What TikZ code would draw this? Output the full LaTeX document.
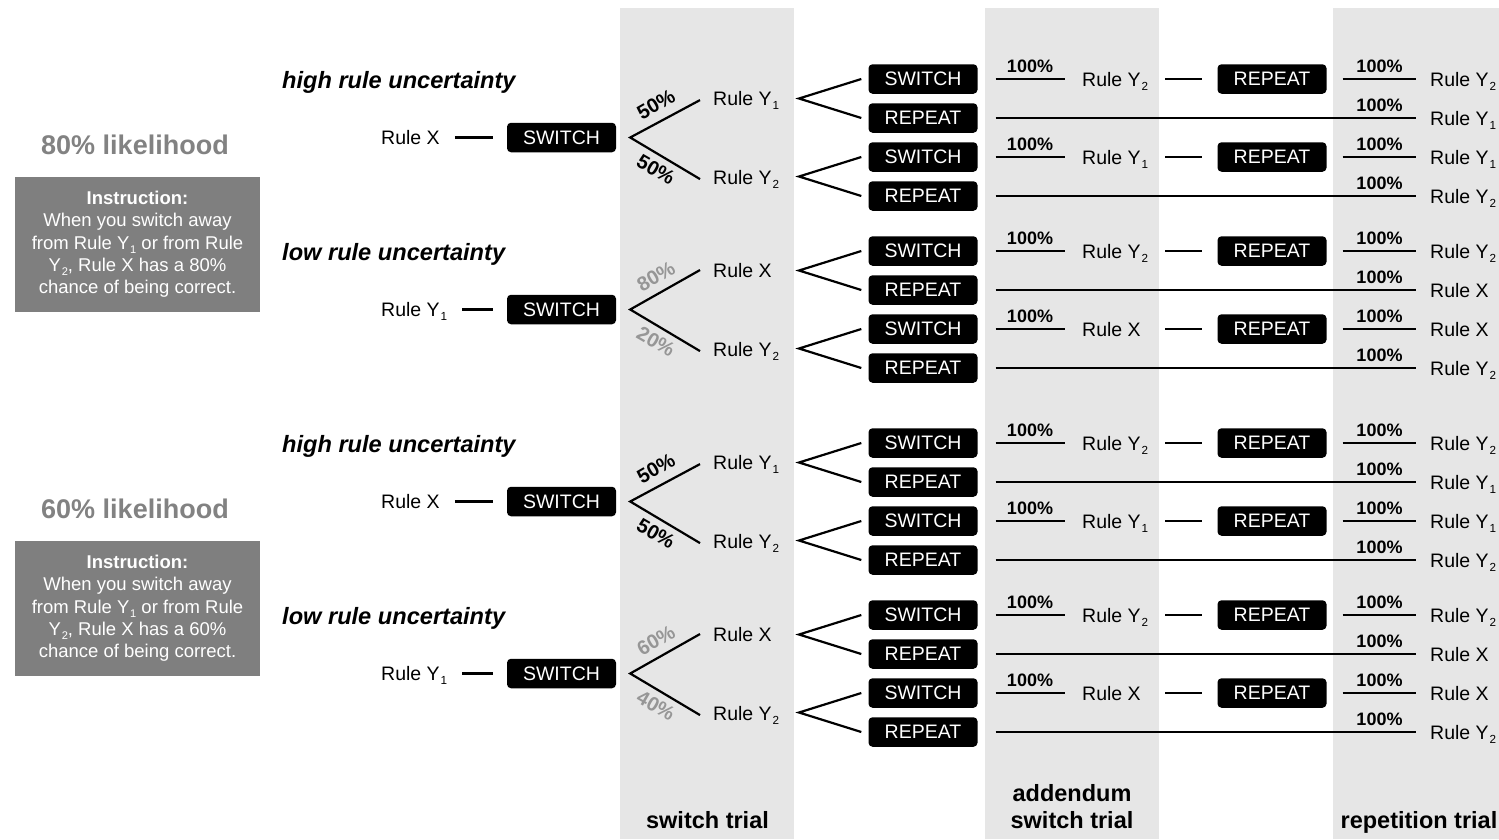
\documentclass[tikz,border=0pt]{standalone}
\usepackage{fontspec}
\setmainfont{Liberation Sans}
\definecolor{colbg}{RGB}{230,230,230}
\definecolor{instrgray}{RGB}{127,127,127}
\definecolor{likegray}{RGB}{130,130,130}
\definecolor{pctgray}{RGB}{150,150,150}
\newcommand\lsub[1]{\kern0.04em\raisebox{-0.22em}{\scalebox{0.6}{#1}}}
\tikzset{
  ln/.style={line width=2.2pt},
  actbox/.style={fill=black, text=white, rounded corners=4pt, minimum width=109pt,
    minimum height=29.5pt, inner sep=0pt, font=\fontsize{19.5}{22}\selectfont},
  rtxt/.style={inner sep=0pt, anchor=base west, font=\fontsize{19.5}{22}\selectfont},
  pctxt/.style={inner sep=0pt, anchor=base, font=\bfseries\fontsize{18}{20}\selectfont},
  pctlab/.style={inner sep=0pt, font=\bfseries\fontsize{20}{22}\selectfont},
  headtxt/.style={inner sep=0pt, anchor=base west, font=\bfseries\itshape\fontsize{23.6}{26}\selectfont},
  liketxt/.style={inner sep=0pt, anchor=base, text=likegray, font=\bfseries\fontsize{27}{30}\selectfont},
  instrbox/.style={fill=instrgray, text=white, align=center, minimum width=245pt,
    minimum height=135pt, inner sep=0pt, font=\fontsize{18.5}{22.3}\selectfont},
  bottxt/.style={inner sep=0pt, anchor=base, font=\bfseries\fontsize{23.5}{26}\selectfont}
}
% switch row: id, y, middle rule, final rule
\newcommand\swrow[4]{%
  \node[actbox] (#1a) at (923,#2) {SWITCH};
  \node[rtxt] (#1m) at (1082,#2+7) {#3};
  \node[actbox] (#1r) at (1272,#2) {REPEAT};
  \node[rtxt] (#1f) at (1430,#2+7) {#4};
  \draw[ln] ([xshift=18pt]#1a.east) -- ([xshift=-17pt]#1m.west |- #1a.east);
  \node[pctxt] (#1p) at (1030,#2-6.5) {100\%};
  \coordinate (#1d) at (1165,#2);
  \draw[ln] (#1d) -- ([xshift=-15pt]#1r.west);
  \draw[ln] ([xshift=16pt]#1r.east) -- ([xshift=-14pt]#1f.west |- #1r.east);
  \node[pctxt] (#1q) at (1379.5,#2-6.5) {100\%};
}
% repeat row: id, y, final rule
\newcommand\rprow[3]{%
  \node[actbox] (#1a) at (923,#2) {REPEAT};
  \node[rtxt] (#1f) at (1430,#2+7) {#3};
  \draw[ln] ([xshift=18pt]#1a.east) -- ([xshift=-14pt]#1f.west |- #1a.east);
  \node[pctxt] (#1q) at (1379.5,#2-6.5) {100\%};
}
% group: id, yc, heading, start rule, mid top, mid bottom, pct top, pct bottom, pct colour
\newcommand\tgroup[9]{%
  \node[headtxt] (G#1h) at (282,#2-49.5) {#3};
  \node[rtxt] (G#1s) at (381,#2+7) {#4};
  \node[actbox] (G#1box) at (561.5,#2) {SWITCH};
  \draw[ln] ([xshift=15pt]G#1s.east |- G#1box.west) -- ([xshift=-14pt]G#1box.west);
  \node[rtxt] (G#1t) at (713,#2-39.5+7) {#5};
  \node[rtxt] (G#1u) at (713,#2+39.5+7) {#6};
  \draw[ln] ([xshift=-13pt]G#1t.west) -- ([xshift=14pt]G#1box.east) -- ([xshift=-13pt]G#1u.west);
  \node[pctlab, text=#9, rotate=30] (G#1p1) at (656,#2-33) {#7};
  \node[pctlab, text=#9, rotate=-30] (G#1p2) at (656,#2+32) {#8};
  \coordinate (G#1w1) at (799,#2-39);
  \coordinate (G#1w2) at (799,#2+39);
  \draw[ln] ([xshift=-7pt]#1aa.west) -- (G#1w1) -- ([xshift=-7pt]#1ba.west);
  \draw[ln] ([xshift=-7pt]#1ca.west) -- (G#1w2) -- ([xshift=-7pt]#1da.west);
}
\begin{document}
\begin{tikzpicture}[x=1pt,y=-1pt]
\useasboundingbox (0,0) rectangle (1499,839);
\fill[white] (0,0) rectangle (1499,839);
% column backgrounds
\fill[colbg] (620,8) rectangle (794,839);
\fill[colbg] (985,8) rectangle (1159,839);
\fill[colbg] (1333,8) rectangle (1499,839);

% left panels
\node[liketxt] (lk1) at (135,154.5) {80\% likelihood};
\node[instrbox] (ib1) at (137.5,244.5) {\textbf{Instruction:}\\When you switch away\\from Rule Y\lsub{1} or from Rule\\Y\lsub{2}, Rule X has a 80\%\\chance of being correct.};
\node[liketxt] (lk2) at (135,518.5) {60\% likelihood};
\node[instrbox] (ib2) at (137.5,608.5) {\textbf{Instruction:}\\When you switch away\\from Rule Y\lsub{1} or from Rule\\Y\lsub{2}, Rule X has a 60\%\\chance of being correct.};

% group A
\swrow{Aa}{79}{Rule Y\lsub{2}}{Rule Y\lsub{2}}
\rprow{Ab}{118}{Rule Y\lsub{1}}
\swrow{Ac}{157}{Rule Y\lsub{1}}{Rule Y\lsub{1}}
\rprow{Ad}{196}{Rule Y\lsub{2}}
\tgroup{A}{137.5}{high rule uncertainty}{Rule X}{Rule Y\lsub{1}}{Rule Y\lsub{2}}{50\%}{50\%}{black}
% group B
\swrow{Ba}{251}{Rule Y\lsub{2}}{Rule Y\lsub{2}}
\rprow{Bb}{290}{Rule X}
\swrow{Bc}{329}{Rule X}{Rule X}
\rprow{Bd}{368}{Rule Y\lsub{2}}
\tgroup{B}{309.5}{low rule uncertainty}{Rule Y\lsub{1}}{Rule X}{Rule Y\lsub{2}}{80\%}{20\%}{pctgray}
% group C
\swrow{Ca}{443}{Rule Y\lsub{2}}{Rule Y\lsub{2}}
\rprow{Cb}{482}{Rule Y\lsub{1}}
\swrow{Cc}{521}{Rule Y\lsub{1}}{Rule Y\lsub{1}}
\rprow{Cd}{560}{Rule Y\lsub{2}}
\tgroup{C}{501.5}{high rule uncertainty}{Rule X}{Rule Y\lsub{1}}{Rule Y\lsub{2}}{50\%}{50\%}{black}
% group D
\swrow{Da}{615}{Rule Y\lsub{2}}{Rule Y\lsub{2}}
\rprow{Db}{654}{Rule X}
\swrow{Dc}{693}{Rule X}{Rule X}
\rprow{Dd}{732}{Rule Y\lsub{2}}
\tgroup{D}{673.5}{low rule uncertainty}{Rule Y\lsub{1}}{Rule X}{Rule Y\lsub{2}}{60\%}{40\%}{pctgray}

% bottom labels
\node[bottxt] (bl1) at (707.5,828) {switch trial};
\node[bottxt] (bl2a) at (1072,801) {addendum};
\node[bottxt] (bl2b) at (1072,828) {switch trial};
\node[bottxt] (bl3) at (1419,828) {repetition trial};
\end{tikzpicture}
\end{document}
